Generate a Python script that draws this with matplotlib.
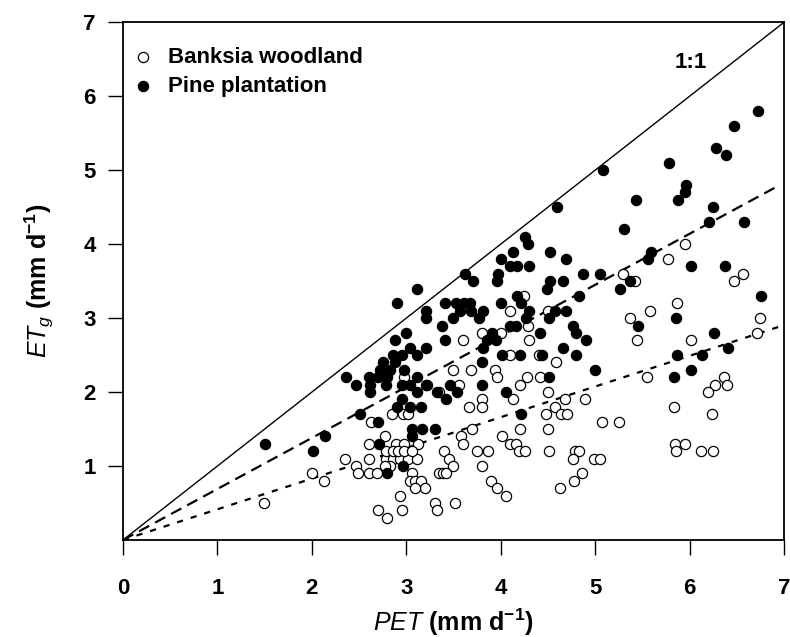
import numpy as np
import matplotlib
matplotlib.use('Agg')
import matplotlib.pyplot as plt

plt.rcParams['font.family'] = 'Liberation Sans'
plt.rcParams['mathtext.fontset'] = 'custom'
plt.rcParams['mathtext.rm'] = 'Liberation Sans:bold'
plt.rcParams['mathtext.it'] = 'Liberation Sans:italic'
plt.rcParams['mathtext.bf'] = 'Liberation Sans:bold'

# Banksia woodland: daily PET vs groundwater ET (mm/d)
banksia_pet = [5.87, 5.37, 5.58, 5.44, 6.02, 6.75, 6.71, 5.55, 6.36, 6.27, 6.40, 6.20, 5.83, 6.24, 5.25,
               5.85, 5.95, 5.86, 6.12, 6.25, 5.95, 5.77, 5.30, 5.42, 6.57, 6.47,
               4.25, 4.10, 4.50, 3.80, 4.00, 4.29, 3.60, 4.30, 4.10, 4.41, 4.59, 3.49, 3.69, 3.94,
               3.96, 4.28, 4.42, 3.56, 4.20, 4.50, 4.13, 3.80, 4.68, 4.89, 3.66, 3.80, 4.57, 4.48,
               4.64, 4.70, 5.07, 3.70, 4.20, 4.50, 3.58, 4.01, 3.60, 4.10, 4.16, 3.40, 3.75, 3.87,
               4.19, 4.26, 4.51, 4.79, 4.83, 3.45, 4.77, 4.99, 5.05, 3.49, 3.80, 3.35, 3.39, 3.42,
               4.86, 3.90, 4.78, 3.96, 4.63, 4.06, 3.52, 3.30, 3.32,
               2.63, 2.85, 2.96, 3.02, 2.77, 2.61, 2.89, 3.12, 2.98, 2.60, 2.35, 2.47, 2.49, 2.61,
               2.69, 2.79, 2.86, 2.93, 3.02, 3.11, 2.79, 2.86, 2.91, 2.98, 3.06, 2.83, 2.77, 3.06,
               3.04, 3.09, 3.16, 3.20, 3.09, 2.00, 2.13, 1.49, 2.93, 2.95, 2.70, 2.80, 3.22, 3.35,
               2.98]
banksia_etg = [3.2, 3.0, 3.1, 2.7, 2.7, 3.0, 2.8, 2.2, 2.2, 2.1, 2.1, 2.0, 1.8, 1.7, 1.6,
               1.3, 1.3, 1.2, 1.2, 1.2, 4.0, 3.8, 3.6, 3.5, 3.6, 3.5,
               3.3, 3.1, 3.1, 2.8, 2.8, 2.9, 2.7, 2.7, 2.5, 2.5, 2.4, 2.3, 2.3, 2.3,
               2.2, 2.2, 2.2, 2.1, 2.1, 2.0, 1.9, 1.9, 1.9, 1.9, 1.8, 1.8, 1.8, 1.7,
               1.7, 1.7, 1.6, 1.5, 1.5, 1.5, 1.4, 1.4, 1.3, 1.3, 1.3, 1.2, 1.2, 1.2,
               1.2, 1.2, 1.2, 1.2, 1.2, 1.1, 1.1, 1.1, 1.1, 1.0, 1.0, 0.9, 0.9, 0.9,
               0.9, 0.8, 0.8, 0.7, 0.7, 0.6, 0.5, 0.5, 0.4,
               1.6, 1.7, 1.7, 1.7, 1.4, 1.3, 1.3, 1.3, 1.3, 1.1, 1.1, 1.0, 0.9, 0.9,
               0.9, 1.1, 1.1, 1.1, 1.1, 1.1, 1.2, 1.2, 1.2, 1.2, 1.2, 1.0, 1.0, 0.9,
               0.8, 0.8, 0.8, 0.7, 0.7, 0.9, 0.8, 0.5, 0.6, 0.4, 0.4, 0.3, 2.1, 2.0,
               2.2]

# Pine plantation
pine_pet = [6.72, 6.47, 6.28, 6.39, 5.78, 5.96, 5.95, 5.88, 5.43, 6.25, 6.21, 6.58, 5.31, 5.59, 5.56,
            6.02, 6.37, 5.37, 5.26, 6.76, 5.86, 5.45, 6.26, 6.41, 5.87, 6.13, 6.02, 5.84,
            5.08, 4.60, 4.26, 4.29, 4.13, 4.52, 4.00, 4.69, 4.10, 4.17, 4.30, 3.62, 3.71, 3.97,
            3.96, 4.52, 4.49, 4.66, 4.87, 5.05, 4.17, 4.83, 4.21, 3.41, 3.53, 3.61, 3.68, 4.00,
            3.57, 3.69, 3.81, 4.30, 4.57, 4.69, 3.50, 3.77, 4.27, 4.51, 3.38, 4.10, 4.16, 4.77,
            4.80, 4.42, 3.91, 3.86, 3.95, 3.41, 4.90, 3.81, 4.66, 4.01, 4.20, 4.44, 4.80, 3.80,
            5.00, 4.51, 3.46, 3.80, 3.32, 3.54, 4.06, 3.42, 4.21, 3.30,
            3.04, 3.21, 2.86, 2.95, 3.11, 2.75, 2.88, 2.98, 2.72, 2.83, 2.36, 2.61, 2.70, 2.80,
            2.47, 2.62, 2.79, 2.95, 3.11, 3.21, 3.04, 2.62, 3.11, 2.95, 2.90, 3.04, 3.16, 2.51,
            2.70, 2.14, 1.50, 2.01, 3.06, 3.17, 3.06, 2.71, 2.96, 2.80, 3.11, 2.90, 3.21, 3.21,
            3.00, 2.88]
pine_etg = [5.8, 5.6, 5.3, 5.2, 5.1, 4.8, 4.7, 4.6, 4.6, 4.5, 4.3, 4.3, 4.2, 3.9, 3.8,
            3.7, 3.7, 3.5, 3.4, 3.3, 3.0, 2.9, 2.8, 2.6, 2.5, 2.5, 2.3, 2.2,
            5.0, 4.5, 4.1, 4.0, 3.9, 3.9, 3.8, 3.8, 3.7, 3.7, 3.7, 3.6, 3.5, 3.6,
            3.5, 3.5, 3.4, 3.5, 3.6, 3.6, 3.3, 3.3, 3.2, 3.2, 3.2, 3.2, 3.2, 3.2,
            3.1, 3.1, 3.1, 3.1, 3.1, 3.1, 3.0, 3.0, 3.0, 3.0, 2.9, 2.9, 2.9, 2.9,
            2.8, 2.8, 2.8, 2.7, 2.7, 2.7, 2.7, 2.6, 2.6, 2.5, 2.5, 2.5, 2.5, 2.4,
            2.3, 2.2, 2.1, 2.1, 2.0, 2.0, 2.0, 1.9, 1.7, 1.5,
            2.6, 2.6, 2.5, 2.5, 2.5, 2.4, 2.4, 2.3, 2.3, 2.3, 2.2, 2.2, 2.2, 2.2,
            2.1, 2.1, 2.1, 2.1, 2.2, 2.1, 2.1, 2.0, 2.0, 1.9, 1.8, 1.8, 1.8, 1.7,
            1.6, 1.4, 1.3, 1.2, 1.5, 1.5, 1.4, 1.3, 1.0, 0.9, 3.4, 3.2, 3.1, 3.0,
            2.8, 2.7]

# regression slopes through the origin
pine_slope = 0.69
banksia_slope = 0.415
fit_xmax = 6.95

fig = plt.figure(figsize=(7.9, 6.37), dpi=100)
ax = fig.add_axes([0.1557, 0.1523, 0.8367, 0.8127])

ax.plot([0, 7], [0, 7], color='black', lw=1.0, zorder=1)
xf = np.array([0, fit_xmax])
ax.plot(xf, pine_slope * xf, color='black', lw=1.6, dashes=(5.2, 3.0), zorder=1)
ax.plot(xf, banksia_slope * xf, color='black', lw=1.6, dashes=(2.8, 3.6), zorder=1)

ax.scatter(banksia_pet, banksia_etg, s=54, facecolors='white', edgecolors='black',
           linewidths=0.9, zorder=2, label='Banksia woodland')
ax.scatter(pine_pet, pine_etg, s=54, facecolors='black', edgecolors='black',
           linewidths=0.9, zorder=3, label='Pine plantation')

ax.text(6.01, 6.46, '1:1', fontsize=16, fontweight='bold', ha='center', va='center')

ax.set_xlim(0, 7)
ax.set_ylim(0, 7)
ax.set_xticks(range(0, 8))
ax.set_yticks(range(1, 8))
ax.tick_params(direction='out', length=10.5, width=1.0, labelsize=16)
ax.tick_params(axis='x', pad=17)
ax.tick_params(axis='y', pad=9)
for lab in ax.get_xticklabels() + ax.get_yticklabels():
    lab.set_fontweight('bold')
for sp in ax.spines.values():
    sp.set_linewidth(1.3)

ax.set_xlabel(r'$\it{PET}$ (mm d$^{\mathbf{-1}}$)', fontsize=18, fontweight='bold', labelpad=5)
ax.set_ylabel(r'$\it{ET_g}$ (mm d$^{\mathbf{-1}}$)', fontsize=18, fontweight='bold', labelpad=20)

ax.legend(loc='upper left', bbox_to_anchor=(0.0, 0.978), frameon=False,
          prop={'weight': 'bold', 'size': 16}, handlelength=0.6, borderpad=0.3,
          handletextpad=0.82, labelspacing=0.36, borderaxespad=0.3, scatterpoints=1)

fig.savefig('out.png', dpi=100)
